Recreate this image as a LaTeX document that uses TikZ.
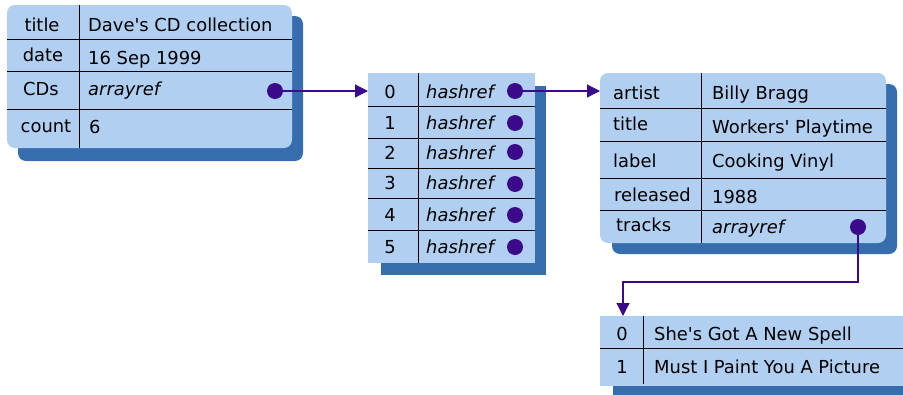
\documentclass[tikz,border=0pt]{standalone}
\usepackage{fontspec}
\setmainfont{DejaVu Sans}[ItalicFont={DejaVu Sans Oblique}]
\usetikzlibrary{arrows.meta}
\definecolor{lightbox}{HTML}{B0CFF1}
\definecolor{shadowbox}{HTML}{366EAD}
\definecolor{linkc}{HTML}{3B0A8A}
\begin{document}
\begin{tikzpicture}[x=1pt,y=-1pt,
  panel/.style={fill=lightbox, draw=none, inner sep=0pt, outer sep=0pt, anchor=north west},
  shade/.style={fill=shadowbox},
  grid/.style={draw=black, line width=1pt},
  txt/.style={anchor=base west, inner sep=0pt, font=\fontsize{17.9}{20}\selectfont},
  ctxt/.style={anchor=base, inner sep=0pt, font=\fontsize{17.9}{20}\selectfont},
  itxt/.style={anchor=base west, inner sep=0pt, font=\fontsize{17.9}{20}\selectfont\itshape},
  dot/.style={circle, fill=linkc, minimum size=16pt, inner sep=0pt},
  link/.style={draw=linkc, line width=1.2pt, -{Triangle[length=13pt,width=13pt]}}
]
\path[use as bounding box] (0,0) rectangle (903,394);
\clip (0,0) rectangle (903,394);

% ---------- box 1 : hash ----------
\fill[shade, rounded corners=8pt] (18,16) rectangle (303,161);
\node[panel, rounded corners=8pt, minimum width=285pt, minimum height=143pt] (b1) at (7,5) {};
\draw[grid] (79,5) -- (79,148);
\draw[grid] (7,39) -- (292,39) (7,71) -- (292,71) (7,109) -- (292,109);
\node[ctxt] (k11) at (42,31) {title};
\node[txt]  (v11) at (88,31) {Dave\textquotesingle s CD collection};
\node[ctxt] (k12) at (43,61) {date};
\node[txt]  (v12) at (88,64) {16 Sep 1999};
\node[ctxt] (k13) at (41,95) {CDs};
\node[itxt] (v13) at (88,95) {arrayref};
\node[ctxt] (k14) at (46,132) {count};
\node[txt]  (v14) at (89,133) {6};
\node[dot] (d1) at (275,91) {};

% ---------- box 2 : array ----------
\fill[shade] (381,86) rectangle (546,275);
\node[panel, minimum width=167pt, minimum height=190pt] (b2) at (368,73) {};
\draw[grid] (418,73) -- (418,263);
\draw[grid] (368,106) -- (535,106) (368,138) -- (535,138) (368,168) -- (535,168)
            (368,198) -- (535,198) (368,230) -- (535,230);
\node[ctxt] (i0) at (390,98) {0};  \node[itxt] (h0) at (426,98) {hashref};
\node[ctxt] (i1) at (390,129) {1}; \node[itxt] (h1) at (426,129) {hashref};
\node[ctxt] (i2) at (390,159) {2}; \node[itxt] (h2) at (426,159) {hashref};
\node[ctxt] (i3) at (390,189) {3}; \node[itxt] (h3) at (426,189) {hashref};
\node[ctxt] (i4) at (390,221) {4}; \node[itxt] (h4) at (426,221) {hashref};
\node[ctxt] (i5) at (390,253) {5}; \node[itxt] (h5) at (426,253) {hashref};
\node[dot] (d2) at (515,91) {};
\node[dot] (e1) at (515,123) {};
\node[dot] (e2) at (515,152) {};
\node[dot] (e3) at (515,184) {};
\node[dot] (e4) at (515,215) {};
\node[dot] (e5) at (515,247) {};

% ---------- box 3 : album hash ----------
\fill[shade, rounded corners=8pt] (612,84) rectangle (897,254);
\node[panel, rounded corners=8pt, minimum width=286pt, minimum height=170pt] (b3) at (600,73) {};
\draw[grid] (701,73) -- (701,243);
\draw[grid] (600,108) -- (886,108) (600,141) -- (886,141) (600,178) -- (886,178) (600,210) -- (886,210);
\node[txt] (k31) at (613,99) {artist};   \node[txt] (v31) at (712,99) {Billy Bragg};
\node[txt] (k32) at (613,130) {title};   \node[txt] (v32) at (712,133) {Workers\textquotesingle\ Playtime};
\node[txt] (k33) at (613,167) {label};   \node[txt] (v33) at (712,167) {Cooking Vinyl};
\node[txt] (k34) at (614,201) {released};\node[txt] (v34) at (712,203) {1988};
\node[txt] (k35) at (616,231) {tracks};  \node[itxt] (v35) at (712,233) {arrayref};
\node[dot] (d3) at (858,227) {};

% ---------- box 4 : tracks ----------
\fill[shade] (613,329) rectangle (910,400);
\node[panel, minimum width=310pt, minimum height=70pt] (b4) at (600,316) {};
\draw[grid] (643,316) -- (643,384);
\draw[grid] (600,348) -- (910,348);
\node[ctxt] (i40) at (622,340) {0}; \node[txt] (t40) at (654,340) {She\textquotesingle s Got A New Spell};
\node[ctxt] (i41) at (622,373) {1}; \node[txt] (t41) at (654,373) {Must I Paint You A Picture};

% ---------- connectors ----------
\coordinate (bend) at (623,282);
\draw[link] (d1) -- (d1 -| b2.west);
\draw[link] (d2) -- (d2 -| b3.west);
\draw[link] (d3) |- (bend) -- (bend |- b4.north);
\end{tikzpicture}
\end{document}
